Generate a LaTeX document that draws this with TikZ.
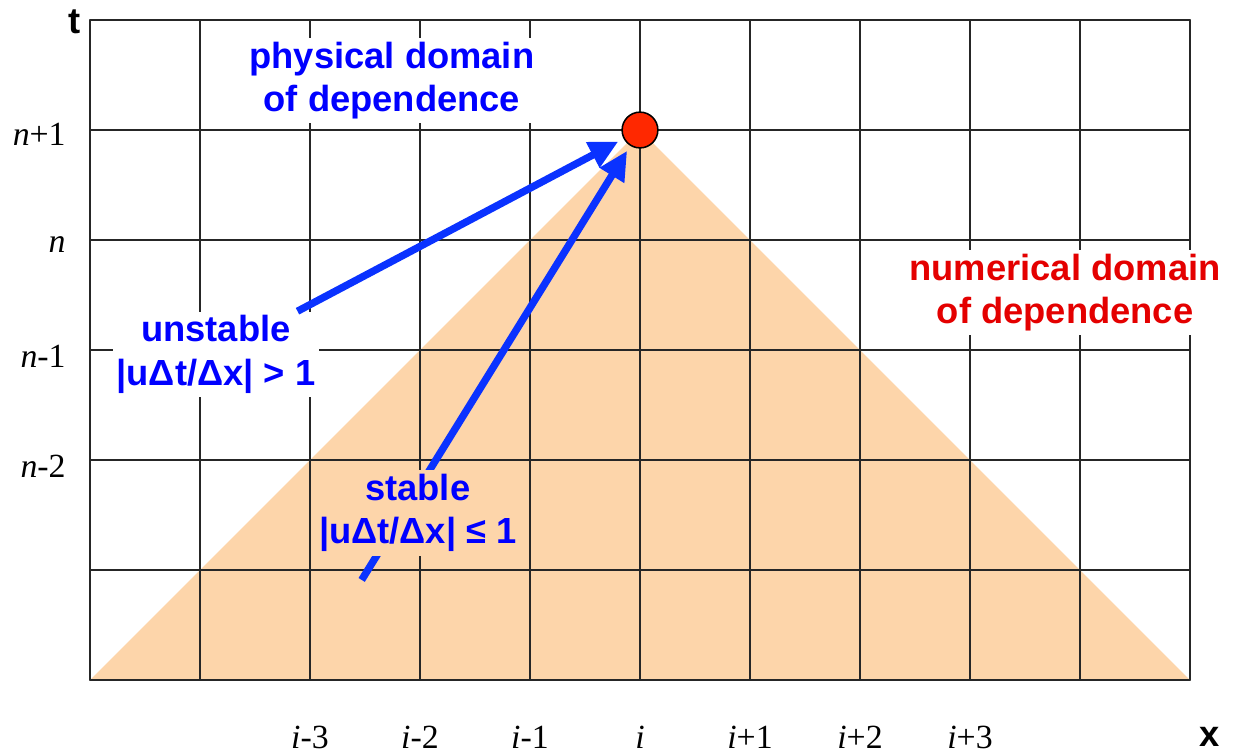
\documentclass[tikz,border=0pt]{standalone}
\usepackage{fontspec}
\setmainfont{Liberation Serif}
\newfontfamily\arialfont{Liberation Sans}
\usetikzlibrary{arrows.meta}
\definecolor{peach}{RGB}{253,213,170}
\definecolor{arrowblue}{RGB}{10,50,255}
\definecolor{labelred}{RGB}{228,0,0}
\definecolor{dotred}{RGB}{255,40,0}
\begin{document}
\begin{tikzpicture}[x=2cm, y=2cm, line cap=round, line join=round, >={Triangle[length=15pt,width=14pt]},
	lbl/.style={font=\arialfont\bfseries\fontsize{18.8}{22.5}\selectfont, align=center, inner sep=2pt},
	idx/.style={font=\fontsize{17.5}{20}\selectfont, inner sep=1pt},
	gridline/.style={line width=0.8pt, black!85}]
	\useasboundingbox (-0.818,-0.673) rectangle (10.391,6.182);
	% numerical domain of dependence
	\fill[peach] (0,0) -- (5,5) -- (10,0) -- cycle;
	\foreach \i in {0,...,10} \draw[gridline] (\i,0) -- (\i,6);
	\foreach \j in {0,...,6} \draw[gridline] (0,\j) -- (10,\j);
	% axis and index labels
	\node[lbl] (T) at (-0.14,5.98) {t};
	\node[lbl] (X) at (10.18,-0.52) {x};
	\node[idx, anchor=east] (N1) at (-0.2,4.96) {\textit{n}+1};
	\node[idx, anchor=east] (N0) at (-0.2,3.96) {\textit{n}};
	\node[idx, anchor=east] (Nm1) at (-0.2,2.94) {\textit{n}-1};
	\node[idx, anchor=east] (Nm2) at (-0.2,1.94) {\textit{n}-2};
	\node[idx] (Im3) at (2,-0.52) {\textit{i}-3};
	\node[idx] (Im2) at (3,-0.52) {\textit{i}-2};
	\node[idx] (Im1) at (4,-0.52) {\textit{i}-1};
	\node[idx] (I0) at (5,-0.52) {\textit{i}};
	\node[idx] (Ip1) at (6,-0.52) {\textit{i}+1};
	\node[idx] (Ip2) at (7,-0.52) {\textit{i}+2};
	\node[idx] (Ip3) at (8,-0.52) {\textit{i}+3};
	% grid point and arrows
	\node[circle, draw, line width=0.8pt, fill=dotred, minimum size=18.5pt, inner sep=0pt] (P) at (5,5) {};
	\node[lbl, text=blue, fill=white] (U) at (1.145,2.96) {unstable\\|uΔt/Δx| > 1};
	\draw[->, arrowblue, line width=3.8pt, line cap=butt, shorten >=3pt] (U) -- (P);
	\coordinate (S0) at (2.47,0.91);
	\draw[->, arrowblue, line width=3.8pt, line cap=butt, shorten >=3pt] (S0) -- (P);
	\node[lbl, text=blue, fill=peach] (S) at (2.98,1.52) {stable\\|uΔt/Δx| ≤ 1};
	\node[lbl, text=blue, fill=white] (PD) at (2.745,5.45) {physical domain\\of dependence};
	\node[lbl, text=labelred, fill=white] (ND) at (8.864,3.52) {numerical domain\\of dependence};
\end{tikzpicture}
\end{document}
